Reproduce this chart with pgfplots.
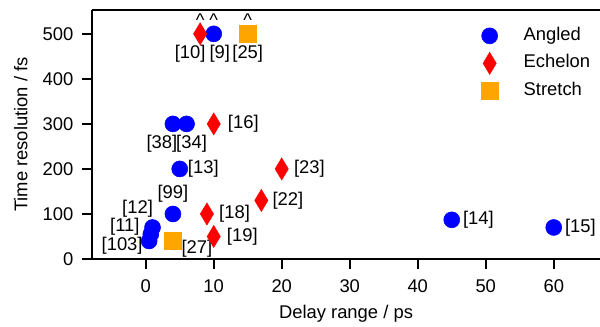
\documentclass[border=0pt]{standalone}
\usepackage{pgfplots}
\pgfplotsset{compat=1.18}
\usepackage{fontspec}
\setmainfont{Liberation Sans}
\definecolor{cblue}{RGB}{0,0,255}
\definecolor{cred}{RGB}{255,0,0}
\definecolor{corange}{RGB}{255,165,0}
\newcommand{\ff}{\fontsize{13.8}{16}\selectfont}
\begin{document}
\ff
\begin{tikzpicture}
\begin{axis}[
  scale only axis,
  width=381pt, height=186.75pt,
  xmin=-7.9, xmax=66.8, ymin=0, ymax=553,
  axis x line=box, axis y line=left,
  axis line style={-, line width=1.2pt},
  xtick pos=lower, ytick pos=left,
  tick align=outside,
  major tick length=7.2pt,
  every tick/.style={black, line width=1.2pt},
  xtick={0,10,20,30,40,50,60},
  ytick={0,100,200,300,400,500},
  /pgf/number format/assume math mode=true,
  ticklabel style={font=\ff},
  xticklabel style={yshift=-3.4pt},
  yticklabel style={xshift=-2pt},
  label style={font=\ff},
  xlabel={Delay range / ps},
  ylabel={Time resolution / fs},
  ylabel shift=2pt,
  clip=false,
  legend style={draw=none, fill=none, inner sep=0pt, outer sep=0pt,
    at={(axis cs:49.4,516)}, anchor=north west,
    row sep=6.8pt, font=\ff,
    nodes={inner sep=0pt, text height=0.75em, text depth=0.25em}},
  legend cell align=left,
  legend image code/.code={\begin{pgfinterruptboundingbox}\draw[#1] plot coordinates {(0pt,0pt)};\end{pgfinterruptboundingbox}\path (-6pt,0pt) (25.5pt,0pt);},
]
\addplot[only marks, mark=*, mark size=6pt, color=cblue, draw=none, mark options={fill=cblue, draw=none}]
 coordinates {(10,500) (4,300) (6,300) (5,200) (4,100) (1,70) (0.75,55) (0.5,40) (45,87) (60,70)};
\addlegendentry{Angled}
\addplot[only marks, mark=diamond*, mark size=8.25pt, color=cred, draw=none, mark options={fill=cred, draw=none, xscale=0.8}]
 coordinates {(8,500) (10,300) (20,200) (17,130) (9,100) (10,50)};
\addlegendentry{Echelon}
\addplot[only marks, mark=square*, mark size=6.4pt, color=corange, draw=none, mark options={fill=corange, draw=none}]
 coordinates {(15,500) (4,40)};
\addlegendentry{Stretch}

\begin{scope}[every node/.style={inner sep=0pt, font=\ff}]
\node at ([yshift=10.3pt]axis cs:8,500) {\^{}};
\node at ([yshift=10.3pt]axis cs:10,500) {\^{}};
\node at ([yshift=10.3pt]axis cs:15,500) {\^{}};
\node at ([xshift=-7.5pt,yshift=-15pt]axis cs:8,500) {[10]};
\node at ([xshift=4.5pt,yshift=-15pt]axis cs:10,500) {[9]};
\node at ([xshift=0pt,yshift=-15pt]axis cs:15,500) {[25]};
\node at ([xshift=-8.25pt,yshift=-14.75pt]axis cs:4,300) {[38]};
\node at ([xshift=3.75pt,yshift=-14.75pt]axis cs:6,300) {[34]};
\node[anchor=west] at ([xshift=10.5pt]axis cs:10,300) {[16]};
\node[anchor=west] at ([xshift=6pt]axis cs:5,200) {[13]};
\node at ([yshift=15pt]axis cs:4,100) {[99]};
\node at ([xshift=-11.25pt,yshift=14.25pt]axis cs:1,70) {[12]};
\node at ([xshift=-19.5pt,yshift=5.25pt]axis cs:0.75,55) {[11]};
\node at ([xshift=-20.25pt,yshift=-3.75pt]axis cs:0.5,40) {[103]};
\node at ([xshift=18pt,yshift=-6pt]axis cs:4,40) {[27]};
\node[anchor=west] at ([xshift=9pt]axis cs:9,100) {[18]};
\node[anchor=west] at ([xshift=9.75pt]axis cs:10,50) {[19]};
\node[anchor=west] at ([xshift=8.25pt]axis cs:17,130) {[22]};
\node[anchor=west] at ([xshift=9pt]axis cs:20,200) {[23]};
\node[anchor=west] at ([xshift=8.25pt]axis cs:45,87) {[14]};
\node[anchor=west] at ([xshift=8.25pt]axis cs:60,70) {[15]};
\end{scope}
\end{axis}
\pgfresetboundingbox
\path[use as bounding box] (current axis.south west) ++(-69pt,-51pt) rectangle ++(450pt,245.25pt);
\end{tikzpicture}
\end{document}
